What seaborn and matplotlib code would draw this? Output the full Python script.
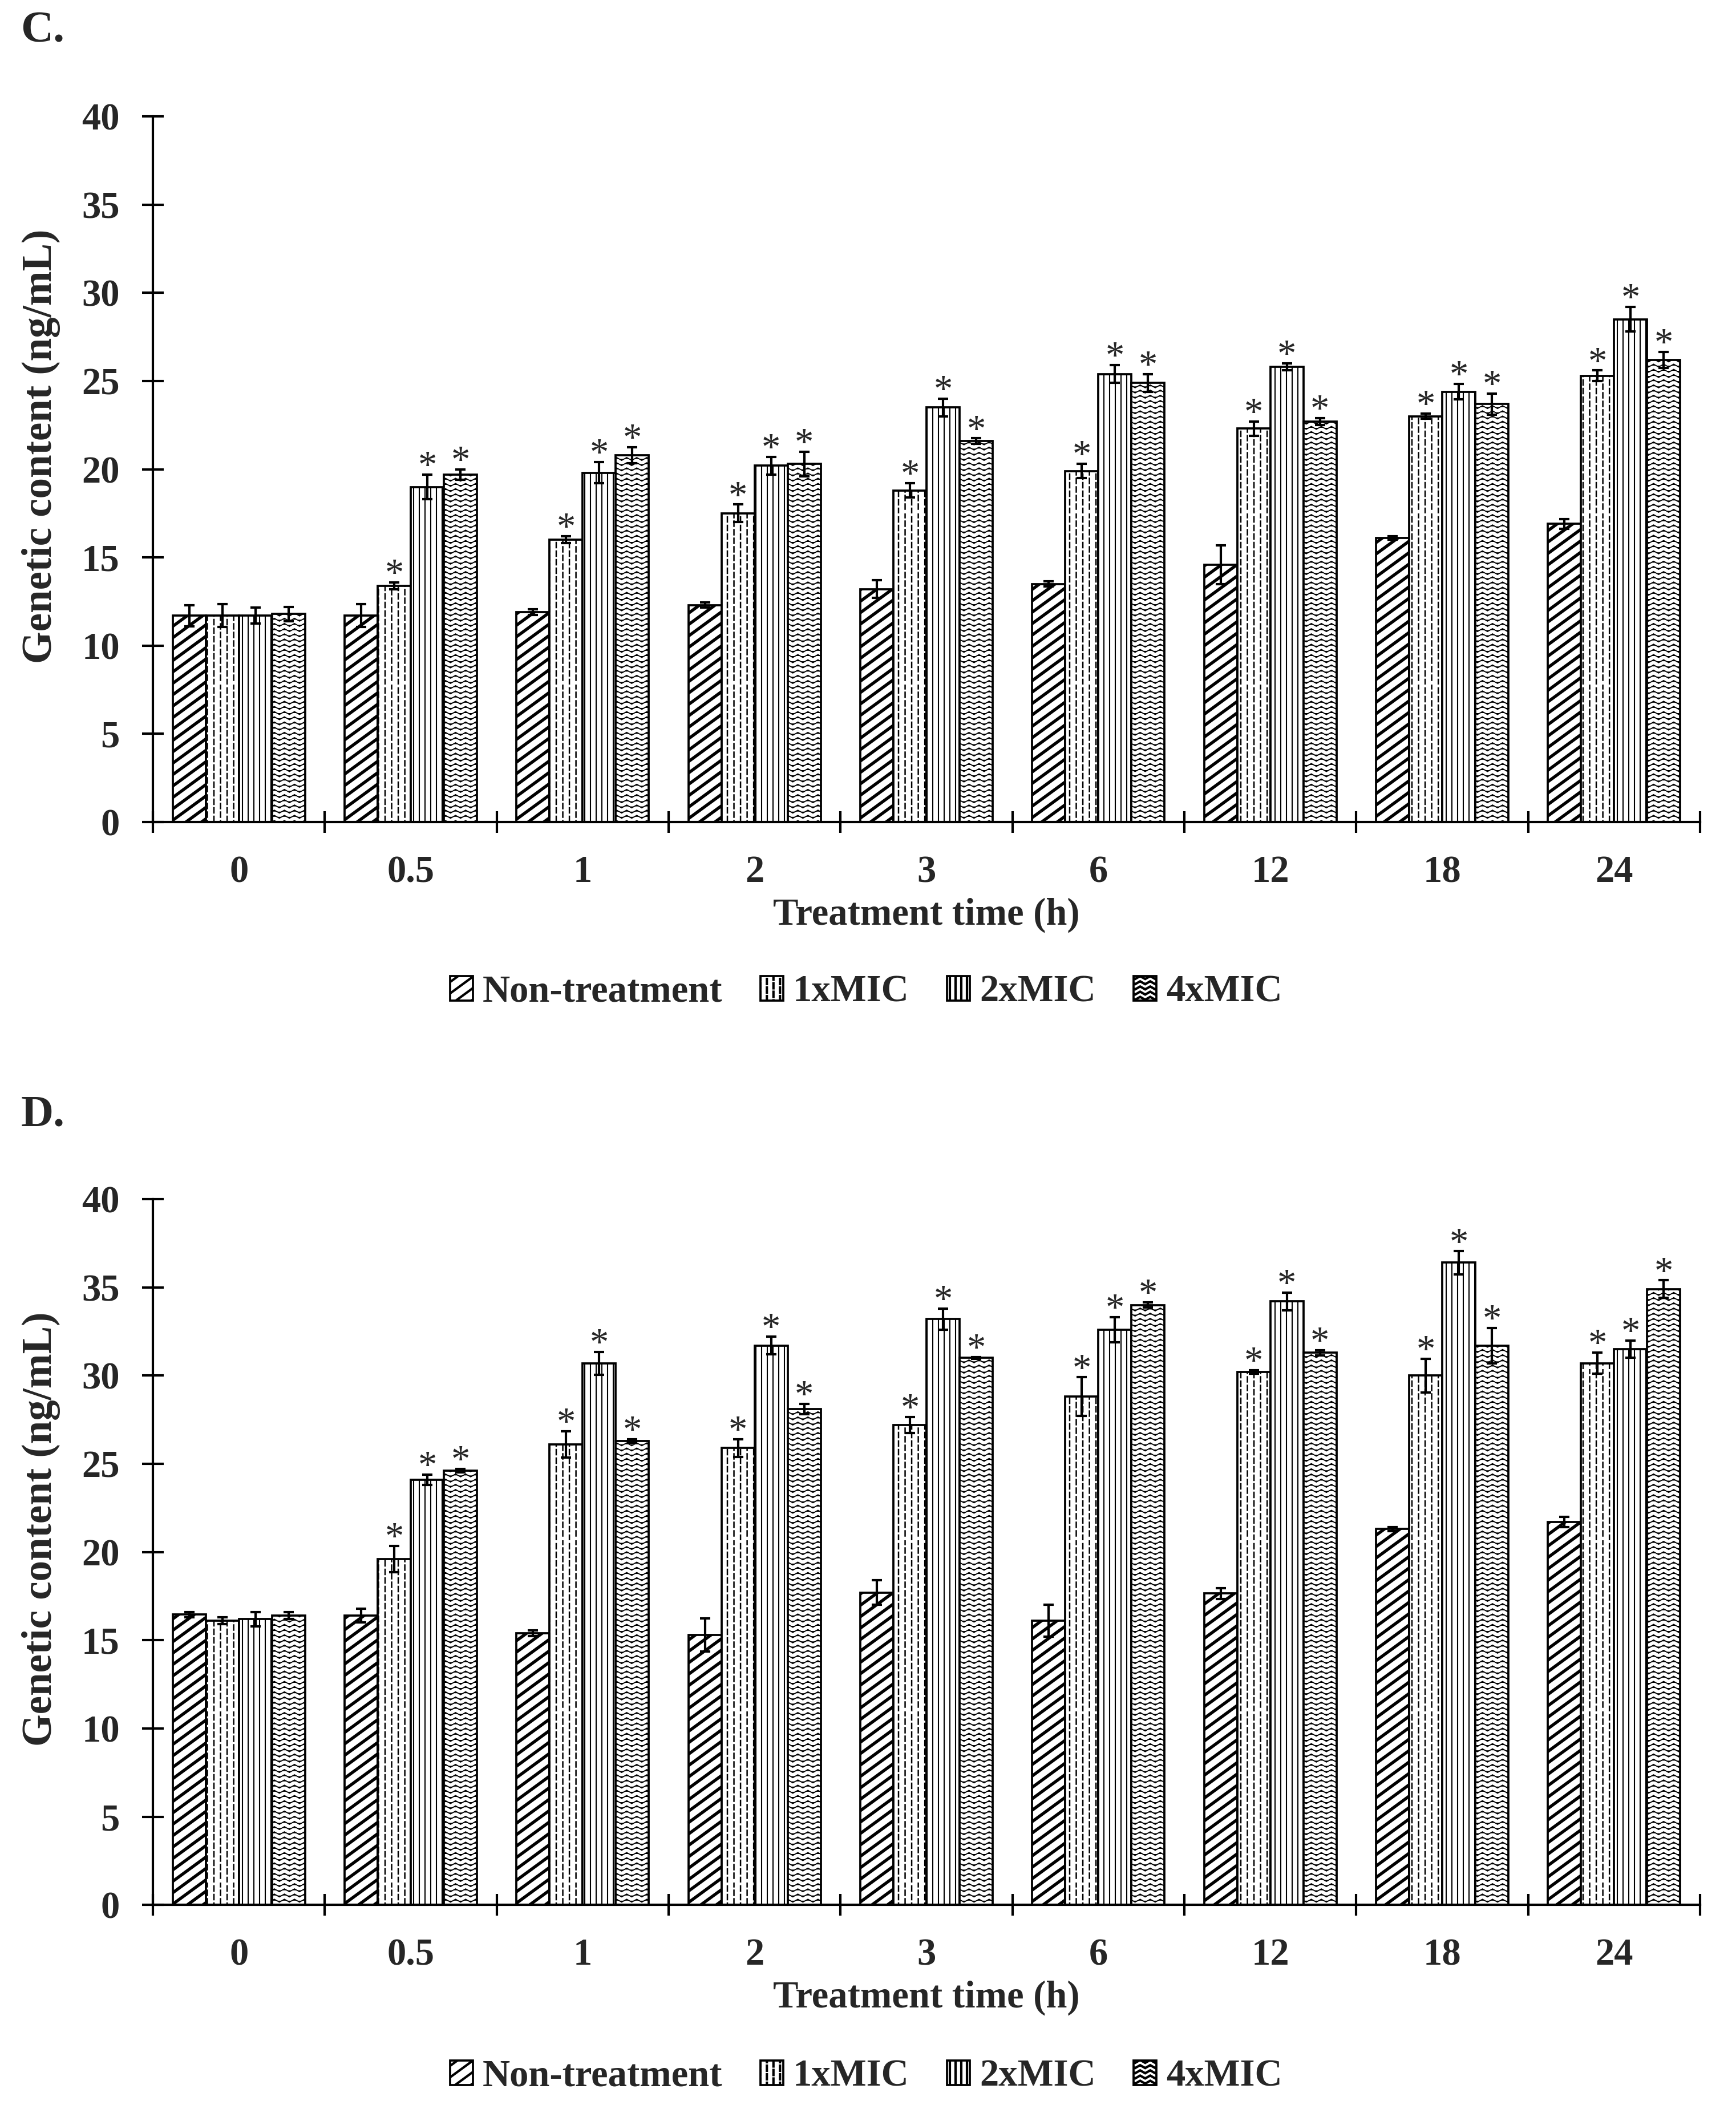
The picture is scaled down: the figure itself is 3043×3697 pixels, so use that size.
"""Genetic content over treatment time, panels C and D (bar chart with hatches)."""

import warnings

import matplotlib
matplotlib.use("Agg")
import matplotlib.pyplot as plt
import numpy as np
import pandas as pd
import seaborn as sns
from matplotlib import hatch as mhatch
from matplotlib.patches import Patch
from matplotlib.path import Path

warnings.filterwarnings("ignore")

TIMES = ["0", "0.5", "1", "2", "3", "6", "12", "18", "24"]
TREATMENTS = ["Non-treatment", "1xMIC", "2xMIC", "4xMIC"]

# ---- panel C ----
C_NT = [11.7, 11.7, 11.9, 12.3, 13.2, 13.5, 14.6, 16.1, 16.9]
C_NT_ERR = [0.6, 0.65, 0.15, 0.15, 0.5, 0.15, 1.1, 0.1, 0.28]
C_1X = [11.7, 13.4, 16.0, 17.5, 18.8, 19.9, 22.3, 23.0, 25.3]
C_1X_ERR = [0.65, 0.2, 0.2, 0.5, 0.4, 0.4, 0.4, 0.15, 0.3]
C_2X = [11.7, 19.0, 19.8, 20.2, 23.5, 25.4, 25.8, 24.4, 28.5]
C_2X_ERR = [0.45, 0.7, 0.6, 0.5, 0.5, 0.5, 0.2, 0.45, 0.7]
C_4X = [11.8, 19.7, 20.8, 20.3, 21.6, 24.9, 22.7, 23.7, 26.2]
C_4X_ERR = [0.4, 0.3, 0.45, 0.7, 0.15, 0.5, 0.2, 0.6, 0.45]

# ---- panel D ----
D_NT = [16.45, 16.4, 15.4, 15.3, 17.7, 16.1, 17.65, 21.3, 21.7]
D_NT_ERR = [0.15, 0.4, 0.15, 0.95, 0.7, 0.9, 0.3, 0.1, 0.3]
D_1X = [16.1, 19.6, 26.1, 25.9, 27.2, 28.8, 30.2, 30.0, 30.7]
D_1X_ERR = [0.2, 0.75, 0.75, 0.5, 0.45, 1.1, 0.1, 0.95, 0.6]
D_2X = [16.2, 24.1, 30.7, 31.7, 33.2, 32.6, 34.2, 36.4, 31.5]
D_2X_ERR = [0.4, 0.3, 0.65, 0.5, 0.6, 0.7, 0.5, 0.65, 0.5]
D_4X = [16.4, 24.6, 26.3, 28.1, 31.0, 34.0, 31.3, 31.7, 34.9]
D_4X_ERR = [0.2, 0.1, 0.1, 0.3, 0.05, 0.15, 0.15, 1.0, 0.5]

# significance marks (1 = asterisk) for each series
SIG_NT = [0, 0, 0, 0, 0, 0, 0, 0, 0]
SIG_TREATED = [0, 1, 1, 1, 1, 1, 1, 1, 1]


# ---- custom hatches --------------------------------------------------------

class ShallowDiagonal(mhatch.HatchPatternBase):
    def __init__(self, hatch, density):
        self.rows = 15 if "n" in hatch else 0
        self.rise = 11
        self.num_vertices = (self.rows + self.rise) * 2 if self.rows else 0

    def set_vertices_and_codes(self, vertices, codes):
        offs = np.arange(-self.rise, self.rows) / self.rows
        vertices[0::2, 0] = 0.0
        vertices[0::2, 1] = offs
        vertices[1::2, 0] = 1.0
        vertices[1::2, 1] = offs + self.rise / self.rows
        codes[0::2] = Path.MOVETO
        codes[1::2] = Path.LINETO


class DashedVertical(mhatch.HatchPatternBase):
    def __init__(self, hatch, density):
        self.cols = 26 if ":" in hatch else 0
        self.dashes = 20
        self.num_vertices = self.cols * self.dashes * 2

    def set_vertices_and_codes(self, vertices, codes):
        k = 0
        for i in range(self.cols):
            x = (i + 0.5) / self.cols
            shift = 0.5 * (i % 2)
            for j in range(self.dashes):
                y0 = (j + shift) / self.dashes
                vertices[k] = (x, y0)
                vertices[k + 1] = (x, y0 + 0.6 / self.dashes)
                codes[k] = Path.MOVETO
                codes[k + 1] = Path.LINETO
                k += 2


class Wave(mhatch.HatchPatternBase):
    def __init__(self, hatch, density):
        self.rows = 33 if "w" in hatch else 0
        self.periods = 17
        self.npts = self.periods * 4 + 1
        self.num_vertices = self.rows * self.npts

    def set_vertices_and_codes(self, vertices, codes):
        xs = np.linspace(0, 1, self.npts)
        amp = 0.28 / self.rows
        for i in range(self.rows):
            y = (i + 0.5) / self.rows
            sl = slice(i * self.npts, (i + 1) * self.npts)
            vertices[sl, 0] = xs
            vertices[sl, 1] = y + amp * np.sin(2 * np.pi * self.periods * xs)
            codes[sl] = Path.LINETO
            codes[i * self.npts] = Path.MOVETO


mhatch._hatch_types.extend([ShallowDiagonal, DashedVertical, Wave])

HATCHES = {"Non-treatment": "n", "1xMIC": ":", "2xMIC": "|||||", "4xMIC": "w"}
HATCH_LW = {"Non-treatment": 1.3, "1xMIC": 0.6, "2xMIC": 0.5, "4xMIC": 0.42}

sns.set_theme(style="white")
plt.rcParams["font.family"] = ["Liberation Serif", "DejaVu Serif"]
plt.rcParams["font.weight"] = "bold"
plt.rcParams["axes.labelweight"] = "bold"


def draw_panel(ax, series, errors, sigs):
    df = pd.DataFrame({
        "time": TIMES * 4,
        "treatment": np.repeat(TREATMENTS, len(TIMES)),
        "value": np.concatenate(series),
    })
    sns.barplot(
        data=df, x="time", y="value", hue="treatment",
        order=TIMES, hue_order=TREATMENTS,
        palette={t: "white" for t in TREATMENTS},
        edgecolor="black", linewidth=0.9, width=0.77, gap=0,
        errorbar=None, legend=False, ax=ax,
    )
    for name, cont, err, sig in zip(TREATMENTS, ax.containers, errors, sigs):
        xs, tops = [], []
        for bar in cont:
            bar.set_hatch(HATCHES[name])
            if hasattr(bar, "set_hatch_linewidth"):
                bar.set_hatch_linewidth(HATCH_LW[name])
            xs.append(bar.get_x() + bar.get_width() / 2)
            tops.append(bar.get_height())
        ax.errorbar(xs, tops, yerr=err, fmt="none", ecolor="black",
                    elinewidth=1.0, capsize=2.2, capthick=1.0, zorder=5)
        for x, t, e, s in zip(xs, tops, err, sig):
            if s:
                ax.annotate("*", (x, t + e), xytext=(0, -1),
                            textcoords="offset points", ha="center",
                            va="baseline", fontsize=16, fontweight="normal")

    ax.set_ylim(0, 40)
    ax.set_xlim(-0.5, len(TIMES) - 0.5)
    ax.set_yticks(range(0, 41, 5))
    ax.set_xticks(np.arange(-0.5, len(TIMES), 1), minor=True)
    ax.tick_params(axis="x", which="major", length=0, pad=14, labelsize=16)
    ax.tick_params(axis="x", which="minor", direction="inout", length=9,
                   width=1.0, color="black", bottom=True)
    ax.tick_params(axis="y", direction="inout", length=9, width=1.0,
                   color="black", pad=9.5, labelsize=16, left=True)
    for lab in ax.get_xticklabels() + ax.get_yticklabels():
        lab.set_fontweight("bold")
    ax.set_xlabel("Treatment time (h)", fontsize=16, labelpad=3)
    ax.set_ylabel("Genetic content (ng/mL)", fontsize=17.5, labelpad=9)
    ax.yaxis.label.set_y(0.533)
    sns.despine(ax=ax)
    for side in ["left", "bottom"]:
        ax.spines[side].set_color("black")
        ax.spines[side].set_linewidth(1.0)


fig = plt.figure(figsize=(3043 / 300, 3697 / 300), dpi=300)
ax_c = fig.add_axes([0.0881, 0.6102, 0.8912, 0.3346])
ax_d = fig.add_axes([0.0881, 0.0968, 0.8912, 0.3346])

draw_panel(ax_c, [C_NT, C_1X, C_2X, C_4X],
           [C_NT_ERR, C_1X_ERR, C_2X_ERR, C_4X_ERR],
           [SIG_NT, SIG_TREATED, SIG_TREATED, SIG_TREATED])
draw_panel(ax_d, [D_NT, D_1X, D_2X, D_4X],
           [D_NT_ERR, D_1X_ERR, D_2X_ERR, D_4X_ERR],
           [SIG_NT, SIG_TREATED, SIG_TREATED, SIG_TREATED])

fig.text(0.012, 0.98, "C.", fontsize=19, fontweight="bold", va="baseline")
fig.text(0.012, 0.4663, "D.", fontsize=19, fontweight="bold", va="baseline")

for ypos in [0.5295, 0.0153]:
    handles = []
    for name in TREATMENTS:
        p = Patch(facecolor="white", edgecolor="black", linewidth=0.9,
                  hatch=HATCHES[name], label=name)
        if hasattr(p, "set_hatch_linewidth"):
            p.set_hatch_linewidth(HATCH_LW[name])
        handles.append(p)
    fig.legend(handles=handles, loc="center", bbox_to_anchor=(0.499, ypos),
               ncol=4, frameon=False, handlelength=0.6, handleheight=0.6,
               handletextpad=0.25, columnspacing=1.0,
               prop={"weight": "bold", "size": 16})

fig.savefig("out.png", dpi=300)
